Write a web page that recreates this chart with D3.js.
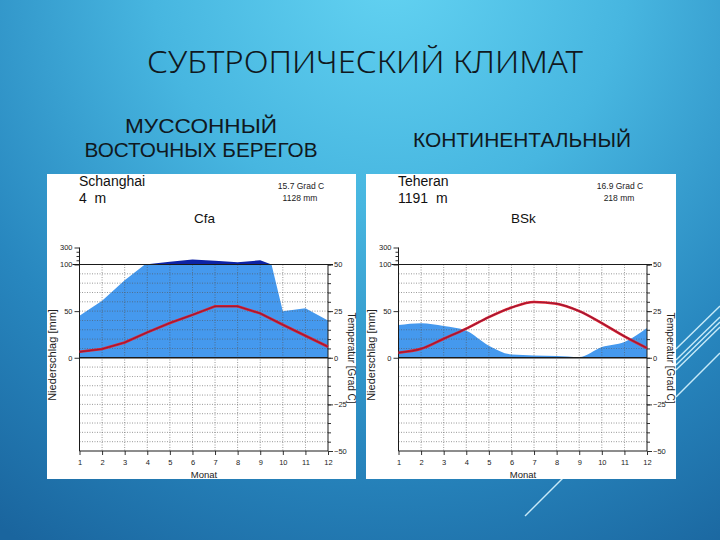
<!DOCTYPE html>
<html>
<head>
<meta charset="utf-8">
<script src="https://cdn.jsdelivr.net/npm/d3@7"></script>
<style>
  html, body { margin: 0; padding: 0; overflow: hidden; }
  text { font-family: "Liberation Sans", Arial, sans-serif; }
</style>
</head>
<body>
<div id="chart"></div>
<script>
const W = 720, H = 540;

// climate data (Walter-Lieth style)
const months = [1, 2, 3, 4, 5, 6, 7, 8, 9, 10, 11, 12];
const stations = ["Schanghai", "Teheran"];
const elevations = ["4  m", "1191  m"];
const meanTemps = ["15.7 Grad C", "16.9 Grad C"];
const annualPrecip = ["1128 mm", "218 mm"];
const climateCodes = ["Cfa", "BSk"];
const shanghaiPrecip = [45, 61, 83, 102, 133, 158, 145, 126, 150, 50, 53, 40];
const shanghaiTemp = [3.2, 4.7, 8.2, 13.6, 18.6, 23.0, 27.6, 27.6, 23.8, 17.7, 11.8, 5.9];
const teheranPrecip = [35, 37, 34, 29, 13, 3.5, 2.5, 1.8, 0.7, 11.5, 17, 32];
const teheranTemp = [2.7, 4.8, 10.2, 15.6, 21.8, 26.9, 29.9, 29.0, 25.0, 18.6, 11.5, 5.2];
const precipTicks = [0, 50, 100, 300];
const precipMinorTicks = [150, 200, 250];
const tempTicks = [-50, -25, 0, 25, 50];
const tempMinorTicks = d3.range(-50, 51, 5);
const title = "СУБТРОПИЧЕСКИЙ КЛИМАТ";
const subtitleLeft = ["МУССОННЫЙ", "ВОСТОЧНЫХ БЕРЕГОВ"];
const subtitleRight = "КОНТИНЕНТАЛЬНЫЙ";

const svg = d3.select("#chart")
    .append("svg")
    .attr("width", W)
    .attr("height", H);

const defs = svg.append("defs");
const bg = defs.append("radialGradient")
    .attr("id", "bg-grad")
    .attr("gradientUnits", "userSpaceOnUse")
    .attr("cx", 390).attr("cy", -30).attr("r", 680);
bg.selectAll("stop")
    .data([
        { offset: "0%", color: "#63d3f2" },
        { offset: "35%", color: "#47b6e0" },
        { offset: "70%", color: "#2887bf" },
        { offset: "100%", color: "#1a659e" }
    ])
    .enter().append("stop")
    .attr("offset", d => d.offset)
    .attr("stop-color", d => d.color);

svg.append("rect")
    .attr("width", W).attr("height", H)
    .style("fill", "url(#bg-grad)");

// decorative light strokes at the right side
const deco = [
    [676, 349, 720, 306], [676, 360, 720, 317], [676, 365, 720, 322],
    [676, 370, 720, 327], [676, 397, 720, 353], [525, 516, 563, 478]
];
svg.selectAll(".deco")
    .data(deco)
    .join("line")
    .attr("x1", d => d[0]).attr("y1", d => d[1])
    .attr("x2", d => d[2]).attr("y2", d => d[3])
    .style("stroke", "#d9f6ff")
    .style("stroke-width", 1.4)
    .style("opacity", 0.9);

// titles
svg.append("text")
    .attr("x", 365).attr("y", 72.5)
    .attr("text-anchor", "middle")
    .attr("textLength", 436)
    .attr("lengthAdjust", "spacingAndGlyphs")
    .style("font-family", "'Noto Sans', 'Open Sans', sans-serif")
    .style("font-weight", 300)
    .style("font-size", "31px")
    .style("fill", "#101820")
    .text(title);

svg.selectAll(".subL")
    .data(subtitleLeft)
    .join("text")
    .attr("x", 201)
    .attr("y", (d, i) => i === 0 ? 133 : 156.5)
    .attr("text-anchor", "middle")
    .attr("textLength", (d, i) => i === 0 ? 152 : 233)
    .attr("lengthAdjust", "spacingAndGlyphs")
    .style("font-size", "20px")
    .style("fill", "#101820")
    .text(d => d);

svg.append("text")
    .attr("x", 522).attr("y", 146.5)
    .attr("text-anchor", "middle")
    .attr("textLength", 218)
    .attr("lengthAdjust", "spacingAndGlyphs")
    .style("font-size", "20px")
    .style("fill", "#101820")
    .text(subtitleRight);

// shared vertical scales: temperature, and precipitation (2 mm = 1 Grad, compressed above 100 mm)
const yT = d3.scaleLinear().domain([-50, 50]).range([451, 264.5]);
const yLo = d3.scaleLinear().domain([0, 100]).range([yT(0), yT(50)]);
const yHi = d3.scaleLinear().domain([100, 300]).range([yT(50), 247.5]);
const yP = d3.scaleLinear().domain([0, 100, 300]).range([yT(0), yT(50), 247.5]);

const panels = [
    { left: 47, width: 309, precip: shanghaiPrecip, temp: shanghaiTemp, curve: d3.curveLinear },
    { left: 366, width: 310, precip: teheranPrecip, temp: teheranTemp, curve: d3.curveMonotoneX }
];

panels.forEach(function (p, i) {
    const x = d3.scaleLinear().domain([1, 12]).range([32.5, 281]);

    const g = svg.append("g").attr("transform", `translate(${p.left}, 0)`);

    g.append("rect")
        .attr("x", 0).attr("y", 174)
        .attr("width", p.width).attr("height", 305)
        .style("fill", "#ffffff");

    // clip paths (local coords, used inside the translated group)
    defs.append("clipPath").attr("id", "lo-" + i)
        .append("rect")
        .attr("x", x(1)).attr("y", yT(50))
        .attr("width", x(12) - x(1)).attr("height", yT(0) - yT(50));
    defs.append("clipPath").attr("id", "hi-" + i)
        .append("rect")
        .attr("x", x(1)).attr("y", 230)
        .attr("width", x(12) - x(1)).attr("height", yT(50) - 230);

    const areaLo = d3.area()
        .x((d, k) => x(months[k]))
        .y0(yLo(0))
        .y1(d => yLo(d))
        .curve(p.curve);
    const areaHi = d3.area()
        .x((d, k) => x(months[k]))
        .y0(yHi(100))
        .y1(d => yHi(d))
        .curve(p.curve);

    g.append("g").attr("clip-path", `url(#lo-${i})`)
        .append("path")
        .datum(p.precip)
        .attr("d", areaLo)
        .style("fill", "#4599ee");
    g.append("g").attr("clip-path", `url(#hi-${i})`)
        .append("path")
        .datum(p.precip)
        .attr("d", areaHi)
        .style("fill", "#0d23a6");

    // dotted grid
    const hGrid = d3.range(-45, 50, 5).filter(v => v !== 0);
    g.selectAll(".hgrid")
        .data(hGrid)
        .join("line")
        .attr("x1", x(1)).attr("x2", x(12))
        .attr("y1", d => yT(d)).attr("y2", d => yT(d))
        .style("stroke", "#555")
        .style("stroke-width", 0.8)
        .style("stroke-dasharray", "1,1.5")
        .style("opacity", 0.75);
    g.selectAll(".vgrid")
        .data(months.slice(1, 11))
        .join("line")
        .attr("x1", d => x(d)).attr("x2", d => x(d))
        .attr("y1", yT(50)).attr("y2", yT(-50))
        .style("stroke", "#555")
        .style("stroke-width", 0.8)
        .style("stroke-dasharray", "1,1.5")
        .style("opacity", 0.75);

    // left axis (precipitation)
    const left = g.append("g")
        .attr("transform", `translate(${x(1)}, 0)`)
        .style("font-size", "7.5px");
    left.call(d3.axisLeft(yP).tickValues(precipTicks).tickSize(5).tickSizeOuter(0).tickPadding(2))
        .select(".domain").remove();
    left.append("g")
        .call(d3.axisLeft(yP).tickValues(precipMinorTicks).tickSize(3).tickFormat(""))
        .select(".domain").remove();

    // right axis (temperature)
    const right = g.append("g")
        .attr("transform", `translate(${x(12)}, 0)`)
        .style("font-size", "7.5px");
    right.call(d3.axisRight(yT).tickValues(tempTicks).tickSize(5).tickSizeOuter(0).tickPadding(1))
        .select(".domain").remove();
    right.append("g")
        .call(d3.axisRight(yT).tickValues(tempMinorTicks).tickSize(3).tickFormat(""))
        .select(".domain").remove();

    // bottom axis (months)
    g.append("g")
        .attr("transform", `translate(0, ${yT(-50)})`)
        .style("font-size", "7.5px")
        .call(d3.axisBottom(x).tickValues(months).tickSize(4).tickSizeOuter(0).tickPadding(5).tickFormat(d3.format("d")))
        .select(".domain").remove();

    g.selectAll(".tick text").style("fill", "#222").style("font-family", "'Liberation Sans', Arial, sans-serif");
    g.selectAll(".tick line").style("stroke", "#333");

    // solid frame lines
    const solid = [
        [x(1), yP(300), x(1), yT(-50), 1],
        [x(12), yT(50), x(12), yT(-50), 1],
        [x(1), yT(-50), x(12), yT(-50), 1],
        [x(1) - 7, yT(50), x(12) + 5, yT(50), 1.1],
        [x(1), yT(0), x(12), yT(0), 1.6]
    ];
    g.selectAll(".solid")
        .data(solid)
        .join("line")
        .attr("x1", d => d[0]).attr("y1", d => d[1])
        .attr("x2", d => d[2]).attr("y2", d => d[3])
        .style("stroke", "#1a1a1a")
        .style("stroke-width", d => d[4]);

    // temperature line
    const line = d3.line()
        .x((d, k) => x(months[k]))
        .y(d => yT(d))
        .curve(p.curve);
    g.append("path")
        .datum(p.temp)
        .attr("d", line)
        .style("fill", "none")
        .style("stroke", "#e2202a")
        .style("stroke-width", 2.6);
    g.append("path")
        .datum(p.temp)
        .attr("d", line)
        .style("fill", "none")
        .style("stroke", "#9c1838")
        .style("stroke-width", 1.2);

    // header texts
    g.append("text")
        .attr("x", 32).attr("y", 186)
        .style("font-size", "14px").style("fill", "#111")
        .text(stations[i]);
    g.append("text")
        .attr("x", 32).attr("y", 203)
        .style("font-size", "14px").style("fill", "#111")
        .style("white-space", "pre")
        .text(elevations[i]);
    g.append("text")
        .attr("x", 254).attr("y", 189)
        .attr("text-anchor", "middle")
        .style("font-size", "8.5px").style("fill", "#222")
        .text(meanTemps[i]);
    g.append("text")
        .attr("x", 253).attr("y", 200.5)
        .attr("text-anchor", "middle")
        .style("font-size", "8.5px").style("fill", "#222")
        .text(annualPrecip[i]);
    g.append("text")
        .attr("x", 157.5).attr("y", 223)
        .attr("text-anchor", "middle")
        .style("font-size", "13.5px").style("fill", "#111")
        .text(climateCodes[i]);

    // axis titles
    g.append("text")
        .attr("transform", "translate(9, 355) rotate(-90)")
        .attr("text-anchor", "middle")
        .style("font-size", "11px").style("fill", "#222")
        .text("Niederschlag [mm]");
    g.append("text")
        .attr("transform", "translate(301, 358) rotate(90)")
        .attr("text-anchor", "middle")
        .style("font-size", "10px").style("fill", "#222")
        .text("Temperatur [Grad C]");
    g.append("text")
        .attr("x", 157).attr("y", 477.5)
        .attr("text-anchor", "middle")
        .style("font-size", "9.5px").style("fill", "#222")
        .text("Monat");
});
</script>
</body>
</html>
